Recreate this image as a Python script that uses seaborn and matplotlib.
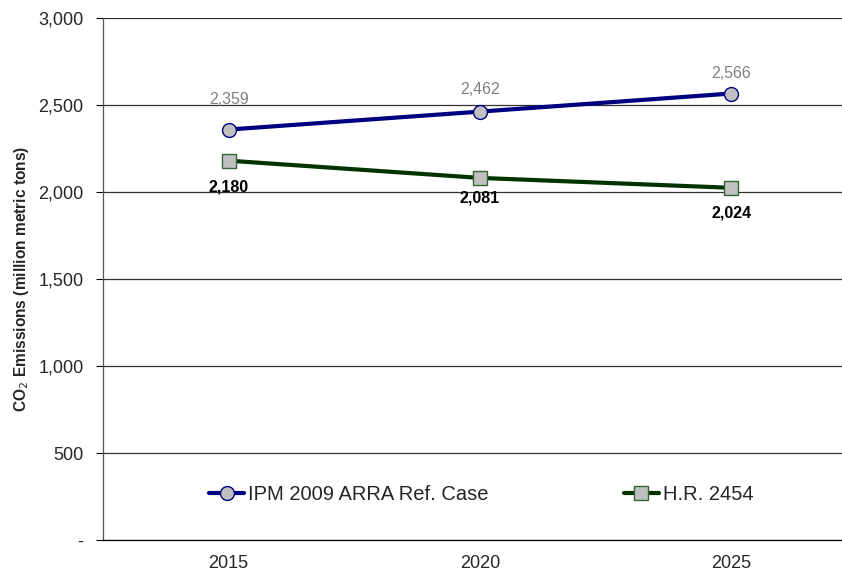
import pandas as pd
import seaborn as sns
import matplotlib.pyplot as plt
from matplotlib.ticker import FuncFormatter

# data
years = ['2015', '2020', '2025']
ipm_ref = [2359, 2462, 2566]
hr_2454 = [2180, 2081, 2024]
series_names = ['IPM 2009 ARRA Ref. Case', 'H.R. 2454']

# label offsets (pixels from the marker), as placed in the original
ipm_offsets = [30, 22, 20]
hr_offsets = [-26, -20, -25]

df = pd.DataFrame({
    'pos': [0, 1, 2] * 2,
    'value': ipm_ref + hr_2454,
    'series': [series_names[0]] * 3 + [series_names[1]] * 3,
})

sns.set_style('white')
plt.rcParams['font.family'] = ['Liberation Sans', 'DejaVu Sans']

fig = plt.figure(figsize=(8.42, 5.73), dpi=100)
ax = fig.add_axes([103 / 842, 33 / 573, 754 / 842, 522 / 573])

sns.lineplot(data=df, x='pos', y='value', hue='series', style='series',
             palette={series_names[0]: '#000080', series_names[1]: '#003300'},
             markers={series_names[0]: 'o', series_names[1]: 's'},
             dashes=False, linewidth=3, markersize=10,
             markerfacecolor='#C0C0C0', ax=ax, legend=False, zorder=3)

# marker edges
for line, ec in zip(ax.lines, ['#000080', '#336633']):
    line.set_markeredgecolor(ec)
    line.set_markeredgewidth(1.0)

# data labels
for i, v in enumerate(ipm_ref):
    ax.annotate(f'{v:,}', (i, v), xytext=(0, ipm_offsets[i] * 0.72), textcoords='offset points',
                ha='center', va='center', fontsize=11.5, color='#808080')
for i, v in enumerate(hr_2454):
    ax.annotate(f'{v:,}', (i, v), xytext=(0, hr_offsets[i] * 0.72), textcoords='offset points',
                ha='center', va='center', fontsize=11.5, color='black', fontweight='bold')

ax.set_xlim(-0.5, 2.5)
ax.set_ylim(0, 3000)
ax.set_yticks(range(0, 3001, 500))
ax.yaxis.set_major_formatter(FuncFormatter(lambda v, p: '-' if v == 0 else f'{int(v):,}'))
ax.grid(axis='y', color='#333333', linewidth=0.9)
ax.set_axisbelow(True)

# category labels at centers, tick marks at boundaries
ax.set_xticks([-0.5, 0.5, 1.5, 2.5])
ax.set_xticklabels([])
ax.set_xticks([0, 1, 2], minor=True)
ax.set_xticklabels(years, minor=True)
ax.tick_params(axis='x', which='major', length=4.5, color='black', width=0.8)
ax.tick_params(axis='x', which='minor', length=0, pad=11, labelsize=13)
ax.tick_params(axis='y', length=5, color='black', width=0.8, labelsize=13, pad=9)
ax.tick_params(axis='y', direction='out', left=True)

for side in ['top', 'right']:
    ax.spines[side].set_visible(False)
ax.spines['left'].set_color('#555555')
ax.spines['bottom'].set_color('black')
for side in ['left', 'bottom']:
    ax.spines[side].set_linewidth(0.9)

ax.set_xlabel('')
ax.set_ylabel('CO$_2$ Emissions (million metric tons)', fontsize=11.2, fontweight='bold')
ax.yaxis.set_label_coords(-71.5 / 754, 0.5)

handles = ax.lines[:2]
leg = ax.legend(handles, series_names, loc='center left', bbox_to_anchor=(106 / 754, 0.088),
                ncol=2, frameon=False, fontsize=14.5, handlelength=1.75,
                handletextpad=0.2, columnspacing=6.7, markerscale=1.0,
                borderaxespad=0, borderpad=0)

fig.savefig('out.png', dpi=100)
